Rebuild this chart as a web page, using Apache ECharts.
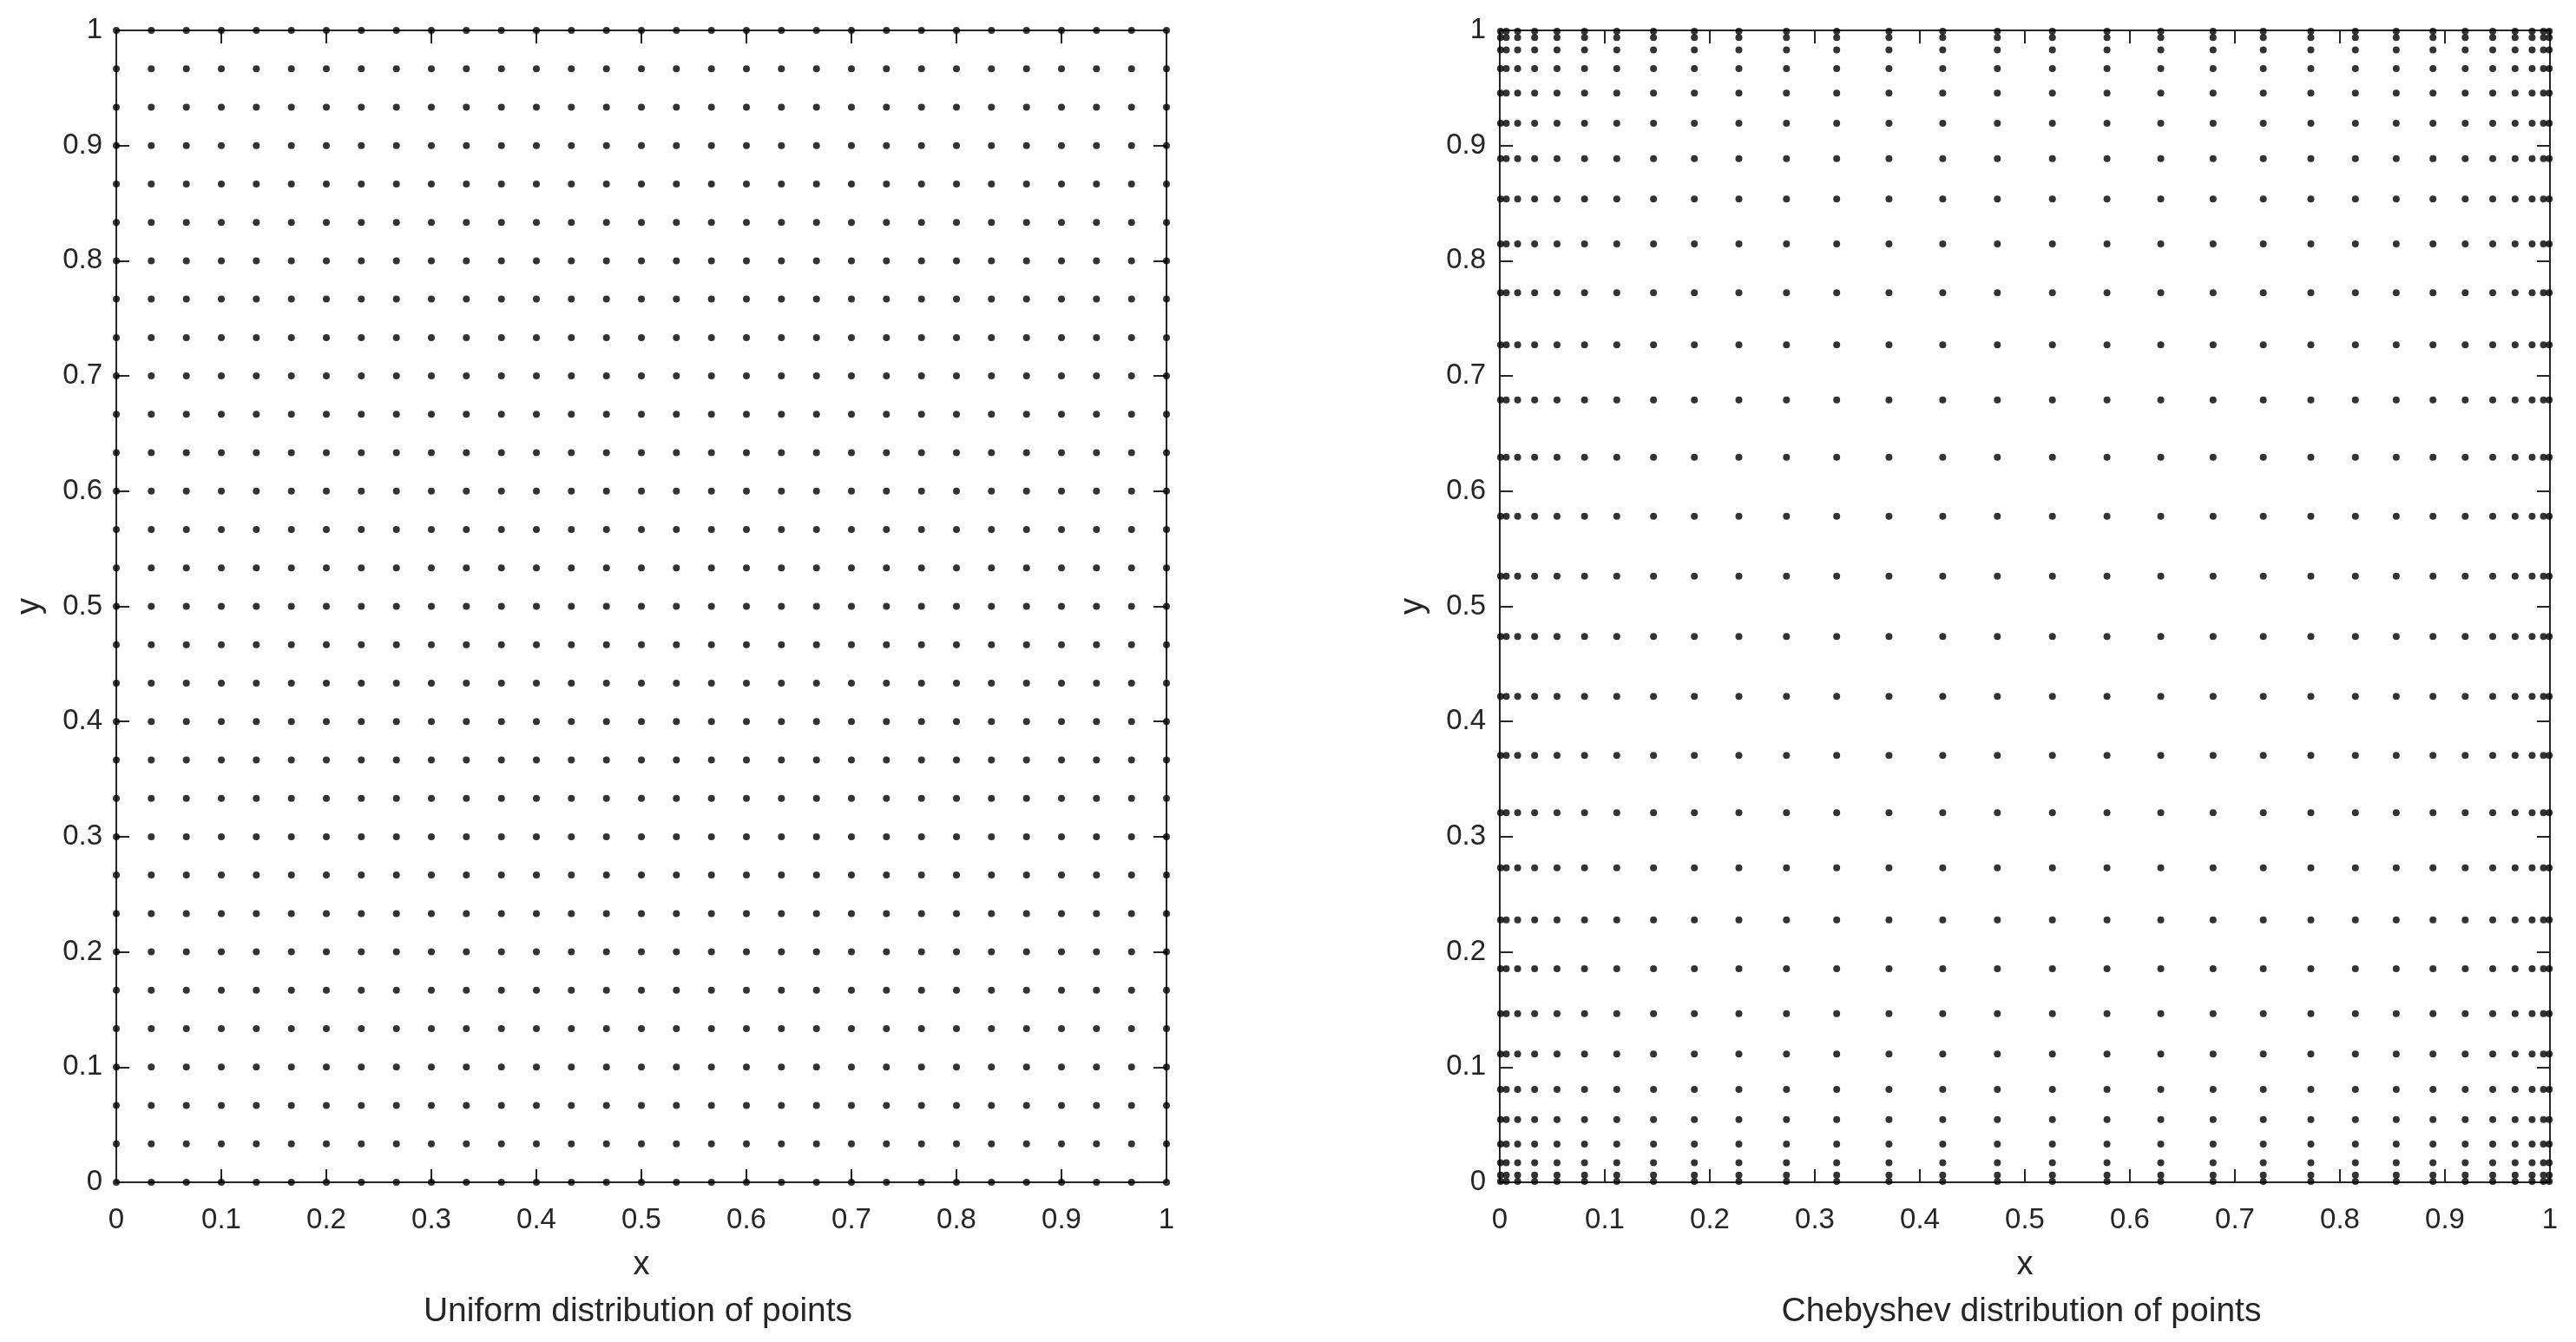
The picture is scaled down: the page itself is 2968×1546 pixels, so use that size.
<!DOCTYPE html>
<html>
<head>
<meta charset="utf-8">
<script src="https://cdn.jsdelivr.net/npm/echarts@6/dist/echarts.min.js"></script>
<style>
  html, body { margin: 0; padding: 0; background: #fff; }
  #myChart { width: 2968px; height: 1546px; }
</style>
</head>
<body>
<div id="myChart"></div>
<script>
// grid coordinates
const uniformPoints = [0, 0.0333, 0.0667, 0.1, 0.1333, 0.1667, 0.2, 0.2333, 0.2667, 0.3,
    0.3333, 0.3667, 0.4, 0.4333, 0.4667, 0.5, 0.5333, 0.5667, 0.6, 0.6333, 0.6667, 0.7,
    0.7333, 0.7667, 0.8, 0.8333, 0.8667, 0.9, 0.9333, 0.9667, 1];

const chebyshevPoints = [0.0007, 0.0062, 0.017, 0.0332, 0.0545, 0.0807, 0.1114, 0.1464,
    0.1853, 0.2277, 0.273, 0.3208, 0.3706, 0.4218, 0.4738, 0.5262, 0.5782, 0.6294, 0.6792,
    0.727, 0.7723, 0.8147, 0.8536, 0.8886, 0.9193, 0.9455, 0.9668, 0.983, 0.9938, 0.9993];

const axisTicks = [0, 0.1, 0.2, 0.3, 0.4, 0.5, 0.6, 0.7, 0.8, 0.9, 1];

const captions = ["Uniform distribution of points", "Chebyshev distribution of points"];
const xName = "x";
const yName = "y";

const FONT = "Liberation Sans";
const INK = "#262626";

const gridOf = (pts) => {
    const data = [];
    pts.forEach((y) => pts.forEach((x) => data.push([x, y])));
    return data;
};

const graphElem = document.getElementById("myChart");
const myChart = echarts.init(graphElem, null, { width: 2968, height: 1546 });

const grids = [
    { left: 134, top: 35, width: 1210, height: 1327 },
    { left: 1728, top: 35, width: 1210, height: 1327 },
];

const baseAxis = (gridIndex, position, showLabel) => ({
    type: "value",
    gridIndex: gridIndex,
    position: position,
    min: axisTicks[0],
    max: axisTicks[axisTicks.length - 1],
    interval: axisTicks[1] - axisTicks[0],
    splitLine: { show: false },
    axisLine: { onZero: false, lineStyle: { color: INK, width: 2 } },
    axisTick: { inside: true, length: 15, lineStyle: { color: INK, width: 2 } },
    axisLabel: {
        show: showLabel,
        color: INK,
        fontFamily: FONT,
        fontSize: 33,
        margin: position === "bottom" ? 27 : 16,
    },
});

const xAxes = [];
const yAxes = [];
grids.forEach((g, i) => {
    xAxes.push(Object.assign(baseAxis(i, "bottom", true), {
        name: xName,
        nameLocation: "middle",
        nameGap: 77,
        nameTextStyle: { color: INK, fontFamily: FONT, fontSize: 38 },
    }));
    xAxes.push(baseAxis(i, "top", false));
    yAxes.push(Object.assign(baseAxis(i, "left", true), {
        name: yName,
        nameLocation: "middle",
        nameGap: 80,
        nameTextStyle: { color: INK, fontFamily: FONT, fontSize: 38 },
    }));
    yAxes.push(baseAxis(i, "right", false));
});

const seriesData = [uniformPoints, chebyshevPoints].map((pts, i) => ({
    type: "scatter",
    xAxisIndex: i * 2,
    yAxisIndex: i * 2,
    data: gridOf(pts),
    symbol: "circle",
    symbolSize: 8,
    clip: false,
    itemStyle: { color: "#000" },
    silent: true,
}));

const options = {
    backgroundColor: "#fff",
    animation: false,
    title: captions.map((text, i) => ({
        text: text,
        left: grids[i].left + grids[i].width / 2 - 9,
        top: 1487,
        textAlign: "center",
        textStyle: { color: INK, fontFamily: FONT, fontSize: 39, fontWeight: "normal" },
    })),
    grid: grids,
    xAxis: xAxes,
    yAxis: yAxes,
    series: seriesData,
};

myChart.setOption(options);
</script>
</body>
</html>
